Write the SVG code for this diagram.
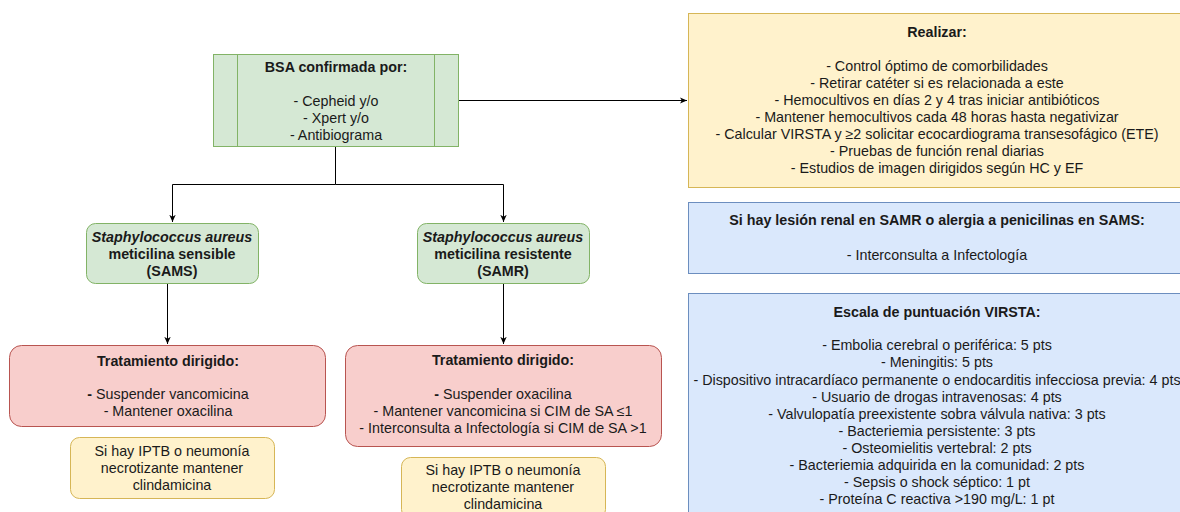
<svg xmlns="http://www.w3.org/2000/svg" width="1180" height="512" viewBox="0 0 1180 512">
<defs>
<marker id="arr" viewBox="0 0 10 10" refX="9" refY="5" markerWidth="8" markerHeight="8" markerUnits="userSpaceOnUse" orient="auto">
<path d="M0,1 L9,5 L0,9 L2.5,5 Z" fill="#000"/>
</marker>
<style>
text{font-family:"Liberation Sans",Arial,sans-serif;font-size:14.3px;fill:#1a1a1a;text-anchor:middle}
.b{font-weight:bold}
.green{fill:#d5e8d4;stroke:#82b366;stroke-width:1}
.red{fill:#f8cecc;stroke:#b85450;stroke-width:1}
.yellow{fill:#fff2cc;stroke:#d6b656;stroke-width:1}
.blue{fill:#dae8fc;stroke:#6c8ebf;stroke-width:1}
.edge{fill:none;stroke:#000;stroke-width:1}
</style>
</defs>
<rect width="1180" height="512" fill="#fff"/>
<g id="connectors">
<path class="edge" d="M458.5,100.5 H687" marker-end="url(#arr)"/>
<path class="edge" d="M335.5,146 V184.5 H172.5 V222" marker-end="url(#arr)"/>
<path class="edge" d="M335.5,184.5 H503.5 V222" marker-end="url(#arr)"/>
<path class="edge" d="M167.5,283 V344" marker-end="url(#arr)"/>
<path class="edge" d="M503.5,283 V344" marker-end="url(#arr)"/>
</g>
<g id="bsa">
<rect class="green" x="213.5" y="54.5" width="245" height="92"/>
<line x1="237.5" y1="54.5" x2="237.5" y2="146.5" stroke="#82b366"/>
<line x1="434.5" y1="54.5" x2="434.5" y2="146.5" stroke="#82b366"/>
<text x="336" y="72" class="b">BSA confirmada por:</text>
<text x="336" y="106">- Cepheid y/o</text>
<text x="336" y="123">- Xpert y/o</text>
<text x="336" y="140">- Antibiograma</text>
</g>
<g id="sams">
<rect class="green" x="86.5" y="223.5" width="172" height="60" rx="9"/>
<text x="172" y="242" class="b" font-style="italic">Staphylococcus aureus</text>
<text x="172" y="259" class="b">meticilina sensible</text>
<text x="172" y="276" class="b">(SAMS)</text>
</g>
<g id="samr">
<rect class="green" x="417.5" y="223.5" width="172" height="60" rx="9"/>
<text x="503" y="242" class="b" font-style="italic">Staphylococcus aureus</text>
<text x="503" y="259" class="b">meticilina resistente</text>
<text x="503" y="276" class="b">(SAMR)</text>
</g>
<g id="tratamiento-sams">
<rect class="red" x="9.5" y="345.5" width="316" height="81" rx="12"/>
<text x="168" y="366" class="b">Tratamiento dirigido:</text>
<text x="168" y="399"><tspan class="b">-</tspan> Suspender vancomicina</text>
<text x="168" y="416">- Mantener oxacilina</text>
</g>
<g id="nota-sams">
<rect class="yellow" x="70.5" y="437.5" width="204" height="61" rx="9"/>
<text x="172" y="456">Si hay IPTB o neumonía</text>
<text x="172" y="473">necrotizante mantener</text>
<text x="172" y="490">clindamicina</text>
</g>
<g id="tratamiento-samr">
<rect class="red" x="345.5" y="345.5" width="316" height="101" rx="12"/>
<text x="503" y="365" class="b">Tratamiento dirigido:</text>
<text x="503" y="399"><tspan class="b">-</tspan> Suspender oxacilina</text>
<text x="503" y="416">- Mantener vancomicina si CIM de SA ≤1</text>
<text x="503" y="433">- Interconsulta a Infectología si CIM de SA &gt;1</text>
</g>
<g id="nota-samr">
<rect class="yellow" x="401.5" y="457.5" width="204" height="61" rx="9"/>
<text x="503" y="475">Si hay IPTB o neumonía</text>
<text x="503" y="492">necrotizante mantener</text>
<text x="503" y="509">clindamicina</text>
</g>
<g id="realizar">
<rect class="yellow" x="688.5" y="13.5" width="500" height="174"/>
<text x="937" y="37" class="b">Realizar:</text>
<text x="937" y="71">- Control óptimo de comorbilidades</text>
<text x="937" y="88">- Retirar catéter si es relacionada a este</text>
<text x="937" y="105">- Hemocultivos en días 2 y 4 tras iniciar antibióticos</text>
<text x="937" y="122">- Mantener hemocultivos cada 48 horas hasta negativizar</text>
<text x="937" y="139">- Calcular VIRSTA y ≥2 solicitar ecocardiograma transesofágico (ETE)</text>
<text x="937" y="156">- Pruebas de función renal diarias</text>
<text x="937" y="173">- Estudios de imagen dirigidos según HC y EF</text>
</g>
<g id="interconsulta">
<rect class="blue" x="688.5" y="202.5" width="500" height="71"/>
<text x="937" y="225" class="b">Si hay lesión renal en SAMR o alergia a penicilinas en SAMS:</text>
<text x="937" y="260">- Interconsulta a Infectología</text>
</g>
<g id="virsta">
<rect class="blue" x="688.5" y="293.5" width="500" height="230"/>
<text x="937" y="317" class="b">Escala de puntuación VIRSTA:</text>
<text x="937" y="350">- Embolia cerebral o periférica: 5 pts</text>
<text x="937" y="367">- Meningitis: 5 pts</text>
<text x="937" y="385">- Dispositivo intracardíaco permanente o endocarditis infecciosa previa: 4 pts</text>
<text x="937" y="402">- Usuario de drogas intravenosas: 4 pts</text>
<text x="937" y="419">- Valvulopatía preexistente sobra válvula nativa: 3 pts</text>
<text x="937" y="436">- Bacteriemia persistente: 3 pts</text>
<text x="937" y="453">- Osteomielitis vertebral: 2 pts</text>
<text x="937" y="470">- Bacteriemia adquirida en la comunidad: 2 pts</text>
<text x="937" y="487">- Sepsis o shock séptico: 1 pt</text>
<text x="937" y="504">- Proteína C reactiva &gt;190 mg/L: 1 pt</text>
</g>
</svg>
